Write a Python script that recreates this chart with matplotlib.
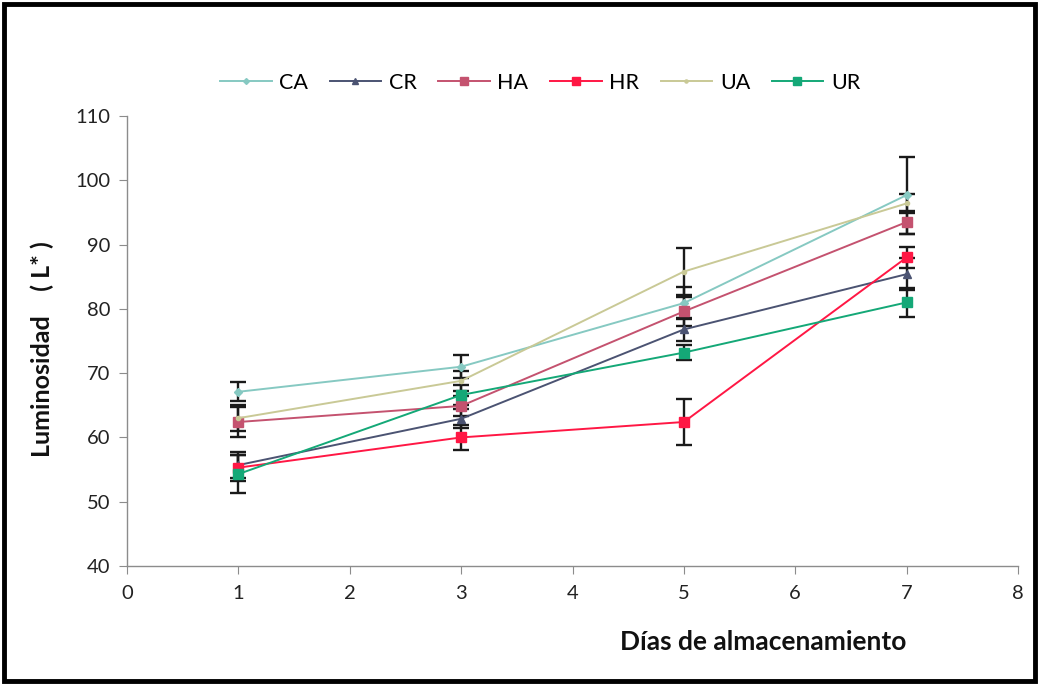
import matplotlib
matplotlib.use("Agg")
import matplotlib.pyplot as plt
from matplotlib.patches import Rectangle

plt.rcParams['font.family'] = ['Lato', 'DejaVu Sans']

dias = [1, 3, 5, 7]
series_names = ["CA", "CR", "HA", "HR", "UA", "UR"]
CA = [67.1, 71.0, 80.9, 97.7]
CR = [55.7, 62.9, 76.8, 85.4]
HA = [62.4, 64.9, 79.6, 93.5]
HR = [55.3, 60.0, 62.4, 88.0]
UA = [63.0, 68.8, 85.8, 96.4]
UR = [54.3, 66.6, 73.2, 81.0]
CA_err = [1.5, 1.8, 2.5, 6.0]
CR_err = [2.0, 1.5, 1.8, 2.5]
HA_err = [2.4, 1.5, 2.2, 1.8]
HR_err = [2.0, 2.0, 3.6, 1.6]
UA_err = [2.0, 1.5, 3.6, 1.5]
UR_err = [3.0, 1.5, 1.2, 2.3]

values = [CA, CR, HA, HR, UA, UR]
errors = [CA_err, CR_err, HA_err, HR_err, UA_err, UR_err]
colors = ["#86c9c2", "#4b5372", "#c4526f", "#ff1744", "#c9c996", "#14a877"]
markers = ["D", "^", "s", "s", "o", "s"]
msizes = [4, 6, 7, 7, 3, 7]

fig = plt.figure(figsize=(10.39, 6.85), dpi=100)
ax = fig.add_axes([127/1039, 1-566/685, (1018-127)/1039, (566-116)/685])

for name, v, e, c, m, ms in zip(series_names, values, errors, colors, markers, msizes):
    ax.errorbar(dias, v, yerr=e, fmt="none", ecolor="#1a1a1a", elinewidth=1.7,
                capsize=6, capthick=1.7, zorder=2)
for name, v, e, c, m, ms in zip(series_names, values, errors, colors, markers, msizes):
    ax.plot(dias, v, color=c, marker=m, markersize=ms, linewidth=1.4, label=name, zorder=3)

ax.set_xlim(0, 8)
ax.set_ylim(40, 110)
ax.set_xticks(range(0, 9))
ax.set_yticks(range(40, 111, 10))
for s in ["top", "right"]:
    ax.spines[s].set_visible(False)
for s in ["left", "bottom"]:
    ax.spines[s].set_color("#8c8c8c")
    ax.spines[s].set_linewidth(1.0)
ax.tick_params(axis="both", direction="out", length=6, color="#8c8c8c", labelsize=14.5, labelcolor="#222222")
ax.tick_params(axis="y", pad=6)
ax.tick_params(axis="x", pad=8)

fig.text(763/1039, 1-642/685, "Días de almacenamiento", ha="center", va="center",
         fontsize=19, fontweight="bold", color="#111111")
fig.text(42/1039, 1-349/685, "Luminosidad    ( L* )", ha="center", va="center",
         rotation=90, fontsize=18, fontweight="bold", color="#111111")

leg = ax.legend(loc="center", bbox_to_anchor=(540/1039, 1-83/685), bbox_transform=fig.transFigure,
                ncol=6, frameon=False, fontsize=15.5, handlelength=2.4, columnspacing=1.0,
                handletextpad=0.35, markerscale=0.75)

fig.patches.append(Rectangle((0.004, 0.006), 0.992, 0.988, transform=fig.transFigure,
                             fill=False, edgecolor="black", linewidth=3.5))

fig.savefig("out.png", dpi=100, facecolor="white")
